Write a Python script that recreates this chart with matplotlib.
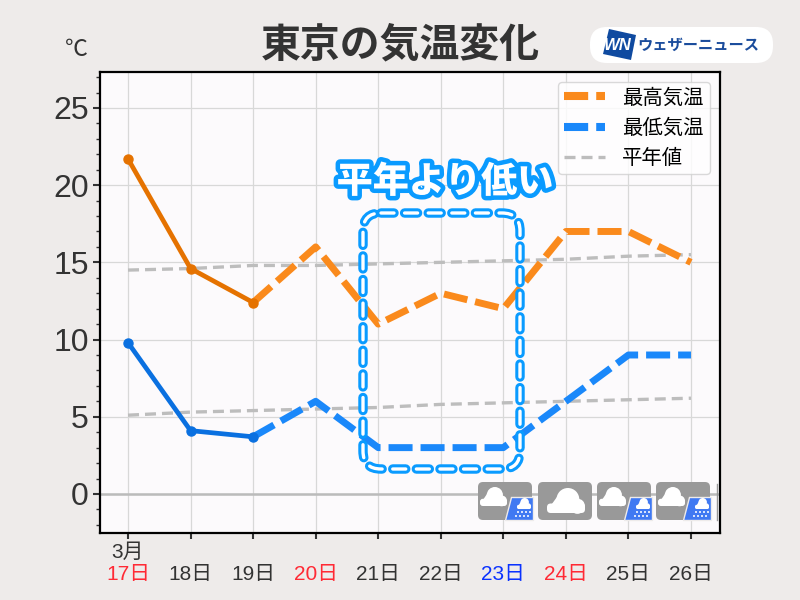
import numpy as np
import matplotlib
matplotlib.use("Agg")
import matplotlib.pyplot as plt
import matplotlib.patheffects as pe
from matplotlib.lines import Line2D
from matplotlib.patches import Circle, FancyBboxPatch, Polygon

plt.rcParams['font.family'] = ['Liberation Sans', 'Noto Sans CJK JP', 'DejaVu Sans']

# -----------------------------
# Data
# -----------------------------
days = ["17日", "18日", "19日", "20日", "21日", "22日", "23日", "24日", "25日", "26日"]
day_colors = ["#FF2A35", "#333333", "#333333", "#FF2A35", "#333333",
              "#333333", "#0A32FF", "#FF2A35", "#333333", "#333333"]

high = [21.7, 14.6, 12.4, 16, 11, 13, 12, 17, 17, 15]
low = [9.8, 4.1, 3.7, 6, 3, 3, 3, 6, 9, 9]
normal_high = [14.5, 14.6, 14.8, 14.8, 14.9, 15.0, 15.1, 15.2, 15.4, 15.5]
normal_low = [5.1, 5.3, 5.4, 5.5, 5.6, 5.8, 5.9, 6.0, 6.1, 6.2]

weather = ["rain", "cloud", "rain", "rain"]
n_observed = 3

x = np.arange(len(days))

# -----------------------------
# Style
# -----------------------------
BG = "#EEEBEA"
text_color = "#333333"
orange = "#FA8A1C"
blue_line = "#1A88FA"
grey_line = "#BDBDBD"
dash = (0, (3.46, 1.15))
grey_dash = (0, (3.3, 1.8))

fig = plt.figure(figsize=(8, 6), dpi=100, facecolor=BG)
ax = fig.add_axes([100 / 800, 1 - 533 / 600, 620 / 800, 461 / 600], facecolor="#FCFAFC")

# -----------------------------
# Plot
# -----------------------------
ax.axhline(0, color="#BBBBBB", lw=1.8, zorder=1.5)
ax.plot(x, normal_high, color=grey_line, lw=2.4, ls=grey_dash, zorder=2)
ax.plot(x, normal_low, color=grey_line, lw=2.4, ls=grey_dash, zorder=2)

n = n_observed
ax.plot(x[n - 1:], high[n - 1:], color=orange, lw=5, ls=dash, dash_capstyle="butt", zorder=3)
ax.plot(x[n - 1:], low[n - 1:], color=blue_line, lw=5, ls=dash, dash_capstyle="butt", zorder=3)
ax.plot(x[:n], high[:n], color="#E57200", lw=3.4, marker="o", ms=6.5, zorder=4)
ax.plot(x[:n], low[:n], color="#0A70E0", lw=3.4, marker="o", ms=6.5, zorder=4)

# -----------------------------
# Axes
# -----------------------------
ax.set_xlim(-0.448, 9.464)
ax.set_ylim(-2.53, 27.33)
ax.set_yticks(np.arange(0, 30, 5))
ax.set_yticks(np.arange(-2, 28, 1), minor=True)
ax.set_xticks(x)
ax.set_xticklabels(days)
for label, c in zip(ax.get_xticklabels(), day_colors):
    label.set_color(c)

ax.grid(True, color="#D8D8D8", lw=0.9)
ax.set_axisbelow(True)
ax.tick_params(axis="y", which="major", labelsize=23, labelcolor=text_color,
               length=5, width=1.5, color=text_color, pad=3)
ax.tick_params(axis="y", which="minor", length=3, width=1, color=text_color)
ax.tick_params(axis="x", labelsize=15, length=4, width=1.5, color=text_color, pad=19)
for s in ax.spines.values():
    s.set_linewidth(1.6)

# -----------------------------
# Legend
# -----------------------------
handles = [
    Line2D([], [], color=orange, lw=5.8, ls=(0, (3, 1)), dash_capstyle="butt"),
    Line2D([], [], color=blue_line, lw=5.8, ls=(0, (3, 1)), dash_capstyle="butt"),
    Line2D([], [], color=grey_line, lw=2.4, ls=grey_dash),
]
leg = ax.legend(handles, ["最高気温", "最低気温", "平年値"], loc="upper right",
                bbox_to_anchor=(0.9835, 0.978), borderaxespad=0, fontsize=14.7,
                handlelength=2.0, handletextpad=0.83, labelspacing=0.53,
                borderpad=0.3, framealpha=0.8, edgecolor="#D0D0D0", fancybox=True)
leg.set_zorder(6)

# -----------------------------
# Overlay in pixel coordinates
# -----------------------------
ov = fig.add_axes([0, 0, 1, 1], facecolor="none")
ov.set_xlim(0, 800)
ov.set_ylim(600, 0)
ov.axis("off")

ov.text(76, 50, "℃", fontsize=16.5, color=text_color, ha="center", va="center")
ov.text(128, 552, "3月", fontsize=15, color=text_color, ha="center", va="center")
ov.text(400, 45, "東京の気温変化", fontsize=28.7, weight="bold", color=text_color,
        ha="center", va="center")

# logo
ov.add_patch(FancyBboxPatch((590, 27), 183, 36, boxstyle="round,pad=0,rounding_size=17",
                            fc="white", ec="none"))
ov.add_patch(Polygon([(609, 29), (636, 35), (631, 60), (603, 54)], fc="#0F4AA0", ec="none"))
ov.text(618, 45, "WN", fontsize=12, weight="bold", style="italic", color="white",
        ha="center", va="center")
ov.text(698, 46, "ウェザーニュース", fontsize=11, weight="bold", color="#1A4C9C",
        ha="center", va="center")

# dashed box and callout
blue = "#0A9BFF"
ov.add_patch(FancyBboxPatch((363, 213), 157, 256, boxstyle="round,pad=0,rounding_size=18",
                            fc="none", ec="white", lw=2.4, ls=(0, (3.9, 3.18)),
                            capstyle="round", zorder=5,
                            path_effects=[pe.withStroke(linewidth=6.8, foreground=blue)]))
ov.text(445, 183, "平年より低い", fontsize=26, weight="black", color="white",
        ha="center", va="center", zorder=6,
        path_effects=[pe.withStroke(linewidth=6.5, foreground=blue)])


# weather icons
def cloud(left, bottom, w, h, zorder=7):
    r = 0.3 * w
    ov.add_patch(Circle((left + 0.55 * w, bottom - h + r), r, fc="white", ec="none", zorder=zorder))
    ov.add_patch(Circle((left + 0.8 * w, bottom - 0.27 * h), 0.2 * w, fc="white", ec="none", zorder=zorder))
    ov.add_patch(FancyBboxPatch((left, bottom - 0.38 * h), w, 0.38 * h,
                                boxstyle=f"round,pad=0,rounding_size={0.15 * h}",
                                fc="white", ec="none", zorder=zorder))
    ov.add_patch(Polygon([(left + 0.1 * w, bottom - 0.3 * h), (left + 0.3 * w, bottom - 0.72 * h),
                          (left + 0.5 * w, bottom - 0.2 * h)], fc="white", ec="none", zorder=zorder))


def icon(x0, kind):
    ov.add_patch(FancyBboxPatch((x0, 482), 54, 38, boxstyle="round,pad=0,rounding_size=5",
                                fc="#999999", ec="none", zorder=6))
    if kind == "cloud":
        cloud(x0 + 9, 513, 38, 25)
        return
    cloud(x0 + 2, 506, 27, 19)
    ov.add_patch(Polygon([(x0 + 33, 497), (x0 + 55, 497), (x0 + 55, 520), (x0 + 27, 520)],
                         fc="#4079F2", ec=BG, lw=1, zorder=7))
    cloud(x0 + 39, 509, 14, 11, zorder=8)
    for y0, dxs in [(512, (40, 44, 48, 52)), (516, (38, 42, 46, 50))]:
        for dx in dxs:
            ov.add_patch(Circle((x0 + dx, y0), 1.0, fc="white", ec="none", zorder=8))


for x0, kind in zip([478, 538, 597, 656], weather):
    icon(x0, kind)
ov.plot([716.5, 716.5], [484, 520], color="#999999", lw=1, zorder=6)

# -----------------------------
# Save
# -----------------------------
fig.savefig("out.png", dpi=100, facecolor=BG)
